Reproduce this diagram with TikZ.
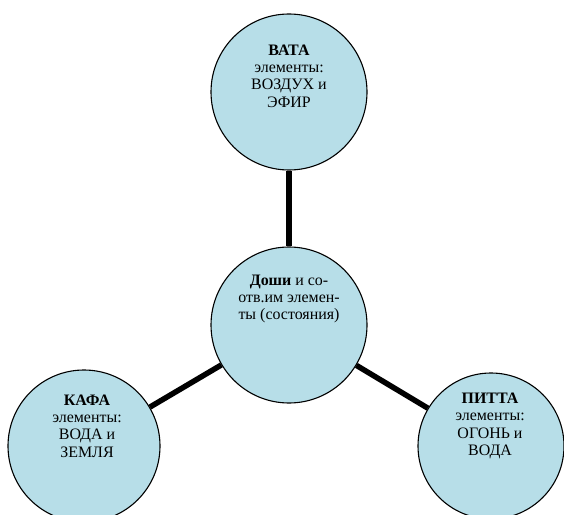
\documentclass[tikz,border=0pt]{standalone}
\usepackage{fontspec}
\setmainfont{Liberation Serif}
\definecolor{aquafill}{RGB}{183,222,232}
\begin{document}
\begin{tikzpicture}[x=1bp,y=-1bp,
  bubble/.style={circle,draw=black,line width=1.1bp,fill=aquafill,inner sep=0pt},
  label/.style={align=center,font=\fontsize{16}{17.5}\selectfont,inner sep=0pt},
  link/.style={line width=5.5bp,draw=black}]
\clip (0,0) rectangle (564,515);
\fill[white] (0,0) rectangle (564,515);
\node[bubble,minimum size=156bp] (vata) at (289,92) {};
\node[bubble,minimum size=156bp] (dosha) at (289,325) {};
\node[bubble,minimum size=152bp] (kafa) at (84,446) {};
\node[bubble,minimum size=146bp] (pitta) at (491,446) {};
\draw[link] (vata) -- (dosha);
\draw[link] (dosha) -- (kafa);
\draw[link] (dosha) -- (pitta);
\node[label] (tvata) at (289,76) {\textbf{ВАТА}\\элементы:\\ВОЗДУХ и\\ЭФИР};
\node[label] (tdosha) at (289,299) {\textbf{Доши} и со-\\отв.им элемен-\\ты (состояния)};
\node[label] (tkafa) at (87,426) {\textbf{КАФА}\\элементы:\\ВОДА и\\ЗЕМЛЯ};
\node[label] (tpitta) at (490,426) {\textbf{ПИТТА}\\элементы:\\ОГОНЬ и\\ВОДА};
\end{tikzpicture}
\end{document}
